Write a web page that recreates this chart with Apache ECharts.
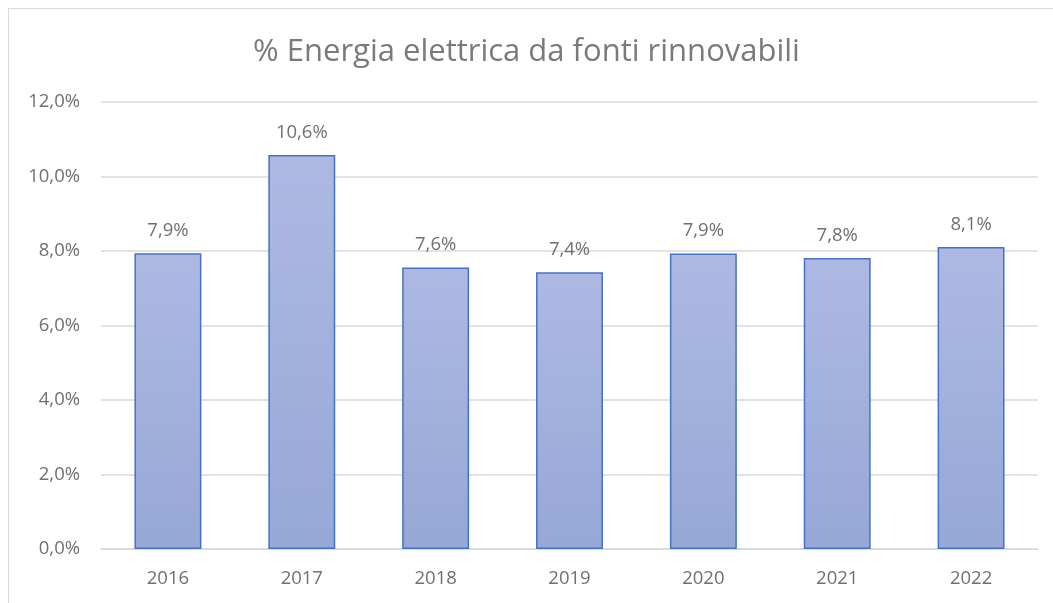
<!DOCTYPE html>
<html><head><meta charset="utf-8">
<script src="https://cdn.jsdelivr.net/npm/echarts@6/dist/echarts.min.js"></script>
<style>html,body{margin:0;padding:0;background:#fff}#frame{position:absolute;left:8px;top:8px;width:1100px;height:700px;border:1px solid #d9d9d9;box-sizing:border-box}#c{position:absolute;left:0;top:0;width:1053px;height:603px}</style>
</head><body><div id="frame"></div><div id="c"></div>
<script>
const categories = ['2016','2017','2018','2019','2020','2021','2022'];
const values = [7.94, 10.58, 7.56, 7.43, 7.93, 7.81, 8.11];
const yTicks = {min: 0, max: 12, interval: 2};
const titleText = '% Energia elettrica da fonti rinnovabili';
const fmt = v => v.toFixed(1).replace('.', ',') + '%';
const FONT = 'Open Sans';
const chart = echarts.init(document.getElementById('c'));
chart.setOption({
  animation: false,
  title: {text: titleText, left: 'center', top: 32, textStyle: {fontFamily: FONT, fontSize: 31, fontWeight: 'normal', color: '#7a7a7a'}},
  grid: {left: 101, right: 15, top: 102, bottom: 54},
  xAxis: {type: 'category', data: categories,
    axisLine: {lineStyle: {color: '#d9d9d9', width: 1.5}}, axisTick: {show: false},
    axisLabel: {fontFamily: FONT, fontSize: 18.5, color: '#707070', margin: 20}},
  yAxis: {type: 'value', min: yTicks.min, max: yTicks.max, interval: yTicks.interval,
    axisLine: {show: false}, axisTick: {show: false},
    splitLine: {lineStyle: {color: '#d9d9d9', width: 1.5}},
    axisLabel: {fontFamily: FONT, fontSize: 18.5, color: '#707070', margin: 21, formatter: v => v.toFixed(1).replace('.', ',') + '%'}},
  series: [{type: 'bar', data: values, barWidth: '50%',
    itemStyle: {borderColor: '#4472c4', borderWidth: 1.5,
      color: new echarts.graphic.LinearGradient(0, 0, 0, 1, [{offset: 0, color: '#adb9e3'}, {offset: 1, color: '#96a8d7'}])},
    label: {show: true, position: 'top', distance: 13, fontFamily: FONT, fontSize: 18.5, color: '#707070', formatter: p => fmt(p.value)}}]
});
</script></body></html>
